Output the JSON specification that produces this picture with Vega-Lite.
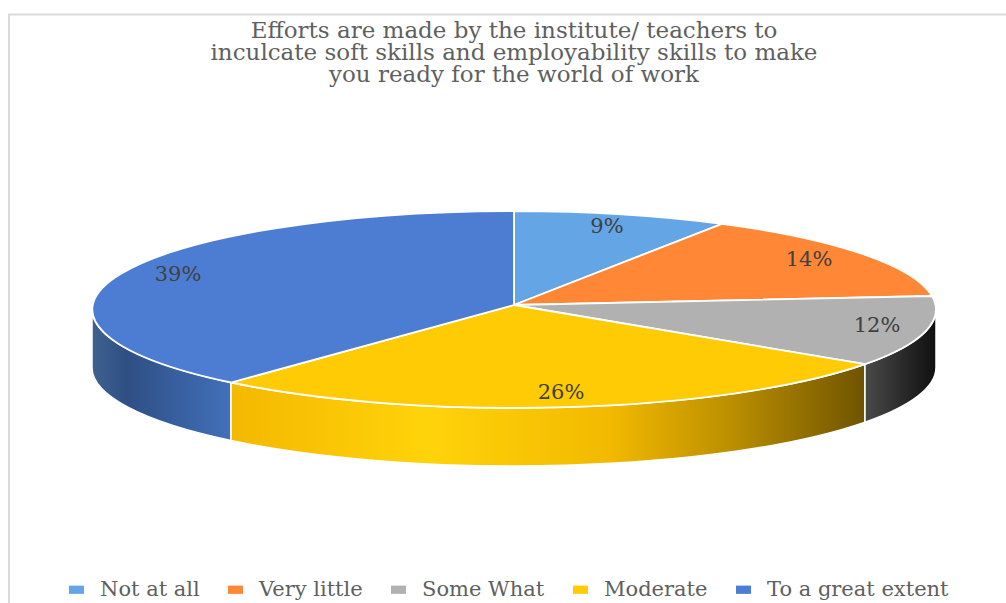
{
  "$schema": "https://vega.github.io/schema/vega-lite/v6.json",
  "width": 1006,
  "height": 603,
  "autosize": "none",
  "padding": 0,
  "background": "white",
  "view": {"stroke": null},
  "title": {
    "text": ["Efforts are made by the institute/ teachers to", "inculcate soft skills and employability skills to make", "you ready for the world of work"],
    "anchor": "middle",
    "baseline": "top",
    "dx": 11,
    "offset": -87,
    "font": "DejaVu Serif",
    "fontSize": 23,
    "fontWeight": "normal",
    "lineHeight": 22,
    "color": "#5f5f5f"
  },
  "data": {
    "values": [
      {"response": "Not at all", "share": 0.09},
      {"response": "Very little", "share": 0.14},
      {"response": "Some What", "share": 0.12},
      {"response": "Moderate", "share": 0.26},
      {"response": "To a great extent", "share": 0.39}
    ]
  },
  "encoding": {
    "color": {
      "field": "response", "type": "nominal",
      "scale": {
        "domain": ["Not at all", "Very little", "Some What", "Moderate", "To a great extent"],
        "range": ["#63a5e5", "#ff8736", "#b1b1b1", "#ffcb05", "#4d7dd3"]
      },
      "legend": {
        "title": null,
        "orient": "none",
        "direction": "horizontal",
        "columns": 5,
        "legendX": 66,
        "legendY": 579,
        "symbolType": "M-1 -0.55 H1 V0.55 H-1 Z",
        "symbolSize": 225,
        "symbolStrokeWidth": 0,
        "labelFont": "DejaVu Serif",
        "labelFontSize": 21,
        "labelColor": "#5f5f5f",
        "labelOffset": 13,
        "columnPadding": 25,
        "labelLimit": 300
      }
    }
  },
  "layer": [
    {
      "transform": [{"filter": "datum.response === 'Not at all'"}],
      "mark": {"type": "point", "size": 4, "filled": false, "stroke": "#dadada", "strokeWidth": 2, "opacity": 1,
        "shape": "M-494 301.5 L-494 -287 L503 -287"},
      "encoding": {"color": {"value": "#dadada"}}
    },
    {
      "transform": [{"filter": "datum.response === 'To a great extent'"}],
      "mark": {"type": "point", "size": 4, "filled": true, "opacity": 1, "stroke": "white", "strokeWidth": 1.5,
        "shape": "M-411 8 A422 98.5 0 0 0 -272 81 L-272 139 A422 98.5 0 0 1 -411 66 Z"},
      "encoding": {"color": {"value": {"gradient": "linear", "x1": 0, "y1": 0, "x2": 1, "y2": 0, "stops": [
          {"offset": 0, "color": "#3f618f"}, {"offset": 0.25, "color": "#2f4f84"}, {"offset": 1, "color": "#4170bb"}]}}}
    },
    {
      "transform": [{"filter": "datum.response === 'Moderate'"}],
      "mark": {"type": "point", "size": 4, "filled": true, "opacity": 1, "stroke": "white", "strokeWidth": 1.5,
        "shape": "M-272 81 A422 98.5 0 0 0 362 62.7 L362 120.7 A422 98.5 0 0 1 -272 139 Z"},
      "encoding": {"color": {"value": {"gradient": "linear", "x1": 0, "y1": 0, "x2": 1, "y2": 0, "stops": [
          {"offset": 0, "color": "#f4b800"}, {"offset": 0.31, "color": "#ffd30a"}, {"offset": 0.6, "color": "#f2b900"},
          {"offset": 0.8, "color": "#b78c00"}, {"offset": 1, "color": "#6f5400"}]}}}
    },
    {
      "transform": [{"filter": "datum.response === 'Some What'"}],
      "mark": {"type": "point", "size": 4, "filled": true, "opacity": 1, "stroke": "white", "strokeWidth": 1.5,
        "shape": "M362 62.7 A422 98.5 0 0 0 433 8 L433 66 A422 98.5 0 0 1 362 120.7 Z"},
      "encoding": {"color": {"value": {"gradient": "linear", "x1": 0, "y1": 0, "x2": 1, "y2": 0, "stops": [
          {"offset": 0, "color": "#4a4a4a"}, {"offset": 0.6, "color": "#262626"}, {"offset": 1, "color": "#101010"}]}}}
    },
    {
      "transform": [{"filter": "datum.response === 'Not at all'"}],
      "mark": {"type": "point", "size": 4, "filled": true, "opacity": 1, "stroke": "white", "strokeWidth": 1.8,
        "shape": "M11 3.5 L11 -90.5 A422 98.5 0 0 1 219 -77.7 Z"}
    },
    {
      "transform": [{"filter": "datum.response === 'Very little'"}],
      "mark": {"type": "point", "size": 4, "filled": true, "opacity": 1, "stroke": "white", "strokeWidth": 1.8,
        "shape": "M11 3.5 L219 -77.7 A422 98.5 0 0 1 429 -5.5 Z"}
    },
    {
      "transform": [{"filter": "datum.response === 'Some What'"}],
      "mark": {"type": "point", "size": 4, "filled": true, "opacity": 1, "stroke": "white", "strokeWidth": 1.8,
        "shape": "M11 3.5 L429 -5.5 A422 98.5 0 0 1 362 62.7 Z"}
    },
    {
      "transform": [{"filter": "datum.response === 'Moderate'"}],
      "mark": {"type": "point", "size": 4, "filled": true, "opacity": 1, "stroke": "white", "strokeWidth": 1.8,
        "shape": "M11 3.5 L362 62.7 A422 98.5 0 0 1 -272 81 Z"}
    },
    {
      "transform": [{"filter": "datum.response === 'To a great extent'"}],
      "mark": {"type": "point", "size": 4, "filled": true, "opacity": 1, "stroke": "white", "strokeWidth": 1.8,
        "shape": "M11 3.5 L-272 81 A422 98.5 0 0 1 11 -90.5 Z"}
    },
    {
      "mark": {"type": "text", "font": "DejaVu Serif", "fontSize": 21, "align": "center", "baseline": "middle"},
      "encoding": {
        "color": {"value": "#404040"},
        "text": {"field": "share", "type": "quantitative", "format": ".0%"},
        "x": {"field": "share", "type": "quantitative", "axis": null,
          "scale": {"domain": [0.09, 0.12, 0.14, 0.26, 0.39], "range": [607, 877, 809, 561, 178]}},
        "y": {"field": "share", "type": "quantitative", "axis": null,
          "scale": {"domain": [0.09, 0.12, 0.14, 0.26, 0.39], "range": [227, 326, 260, 393, 275]}}
      }
    }
  ]
}
